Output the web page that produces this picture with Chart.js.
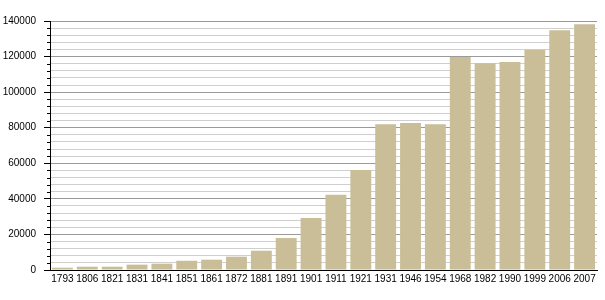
<!DOCTYPE html>
<html>
<head>
<meta charset="utf-8">
<script src="https://cdn.jsdelivr.net/npm/chart.js@4/dist/chart.umd.min.js"></script>
<style>
html,body{margin:0;padding:0;background:#fff;}
#wrap{width:605px;height:300px;position:relative;}
</style>
</head>
<body>
<div id="wrap"><canvas id="c" width="605" height="300"></canvas></div>
<script>
const years = ["1793","1806","1821","1831","1841","1851","1861","1872","1881","1891","1901","1911","1921","1931","1946","1954","1968","1982","1990","1999","2006","2007"];
const population = [1300,1850,1850,3000,3550,5200,5800,7500,10850,18000,29200,42300,56200,82000,82700,82000,119800,116200,117000,123900,134800,138200];
const yMin = 0;
const yMax = 140000;
const minorStep = 4000;
const majorStep = 20000;

const minorTicks = {
  id: 'minorTicks',
  afterDraw(chart) {
    const y = chart.scales.y;
    const c = chart.ctx;
    c.save();
    c.strokeStyle = '#000';
    c.lineWidth = 1;
    for (let v = yMin; v <= yMax; v += minorStep) {
      if (v % majorStep === 0) continue;
      const py = Math.round(y.getPixelForValue(v)) + 0.5;
      c.beginPath();
      c.moveTo(y.right - 3, py);
      c.lineTo(y.right, py);
      c.stroke();
    }
    c.restore();
  }
};

const ctx = document.getElementById('c').getContext('2d');
new Chart(ctx, {
  type: 'bar',
  data: {
    labels: years,
    datasets: [{
      data: population,
      backgroundColor: '#c9be97',
      borderWidth: 0,
      barPercentage: 0.84,
      categoryPercentage: 1.0
    }]
  },
  options: {
    responsive: false,
    animation: false,
    devicePixelRatio: 1,
    layout: { padding: { top: 21, right: 8, left: 0, bottom: 0 } },
    plugins: { legend: { display: false }, tooltip: { enabled: false } },
    scales: {
      x: {
        grid: { display: false, drawTicks: false },
        border: { display: true, color: '#000', width: 1 },
        ticks: {
          color: '#000',
          font: { family: 'Liberation Sans', size: 10 },
          padding: 3,
          maxRotation: 0,
          autoSkip: false
        },
        afterFit(scale) { scale.height = 30; }
      },
      y: {
        min: yMin,
        max: yMax,
        border: { display: true, color: '#000', width: 1 },
        grid: {
          color: (c) => (c.tick && c.tick.value % majorStep === 0) ? '#9a9a9a' : '#cfcfcf',
          tickColor: (c) => (c.tick && c.tick.value % majorStep === 0) ? '#000' : 'rgba(0,0,0,0)',
          tickLength: 6,
          lineWidth: 1
        },
        ticks: {
          stepSize: minorStep,
          color: '#000',
          font: { family: 'Liberation Sans', size: 10 },
          padding: 8,
          autoSkip: false,
          callback: (v) => (v % majorStep === 0) ? String(v) : ''
        },
        afterFit(scale) { scale.width = 50; }
      }
    }
  },
  plugins: [minorTicks]
});
</script>
</body>
</html>
